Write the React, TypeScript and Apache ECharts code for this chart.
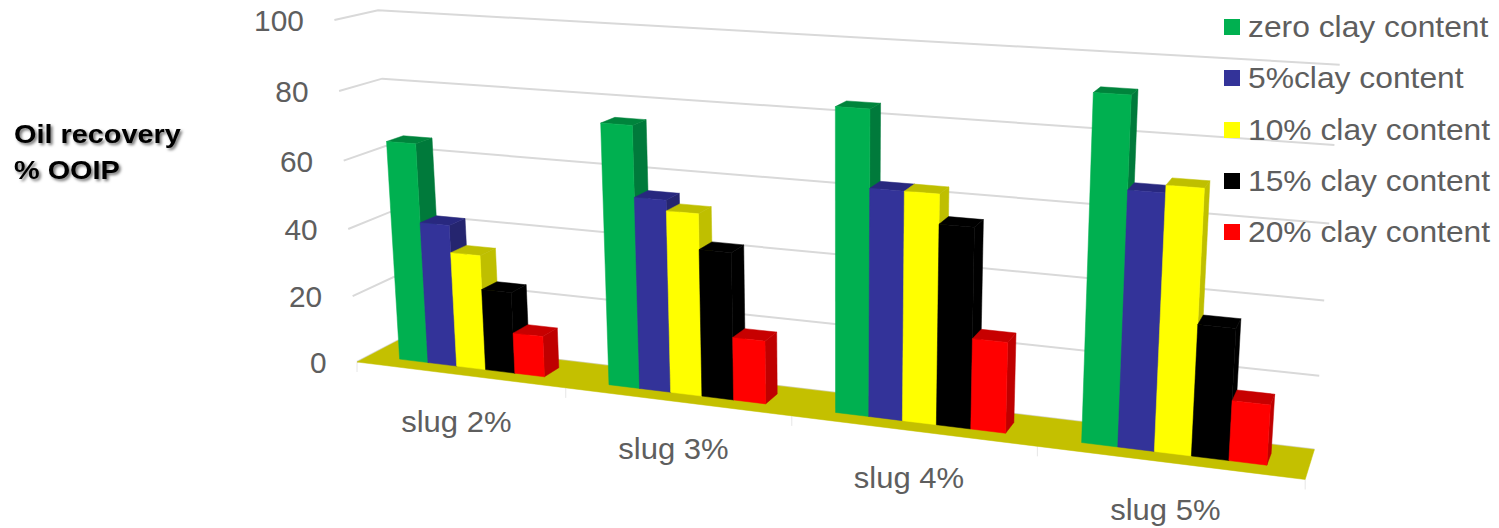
import React, { useEffect, useRef } from "react";
import * as echarts from "echarts";

// Chart content
const categories = ["slug 2%", "slug 3%", "slug 4%", "slug 5%"];
const tickValues = [0, 20, 40, 60, 80, 100];
const legendNames = [
  "zero clay content",
  "5%clay content",
  "10% clay content",
  "15% clay content",
  "20% clay content",
];
const zeroClay = [65, 75, 84, 92];
const clay5 = [42, 55, 63, 68];
const clay10 = [34, 52, 63, 70];
const clay15 = [24, 42, 55, 35];
const clay20 = [12, 18, 25, 16];
const seriesValues = [zeroClay, clay5, clay10, clay15, clay20];

// Face colours per series
const frontColors = ["#00B050", "#333399", "#FFFF00", "#000000", "#FF0000"];
const sideColors = ["#007A3B", "#25256F", "#BFBF00", "#000000", "#BF0000"];
const topColors = ["#00843C", "#28287F", "#BFBF00", "#000000", "#C70000"];

const FONT = '"Liberation Sans", Arial, sans-serif';
const TEXT_GREY = "#5E5E5E";
const GRID_GREY = "#D9D9D9";
const FLOOR = "#C4C000";

// Perspective box: origin is the near-left floor corner, the three vanishing
// points give the category, depth and value directions.
const ORIGIN = [357, 362];
const VP_X = [-4888, -288];
const VP_Z = [1530, -250];
const VP_Y = [840, 7670];
const A = -0.1531;
const B = 0.0362;
const C = -0.0447;

function project(u: number, w: number, v: number): number[] {
  const d = 1 + A * u + B * w + C * v;
  return [
    (ORIGIN[0] + A * VP_X[0] * u + B * VP_Z[0] * w + C * VP_Y[0] * v) / d,
    (ORIGIN[1] + A * VP_X[1] * u + B * VP_Z[1] * w + C * VP_Y[1] * v) / d,
  ];
}

// Grid position of a data point as fractions of the plot box
function toUnit(params: any, api: any, cat: number, val: number) {
  const cs = params.coordSys;
  const p = api.coord([cat, val]);
  return {
    u: (p[0] - cs.x) / cs.width,
    v: (cs.y + cs.height - p[1]) / cs.height,
    slot: api.size([1, 0])[0] / cs.width,
  };
}

const GROUP_SPAN = 0.7;
const DEPTH_NEAR = 0.3;
const DEPTH_FAR = 0.7;

function face(points: number[][], fill: string) {
  return {
    type: "polygon",
    shape: { points },
    style: { fill, stroke: fill, lineWidth: 0.5 },
  };
}

function barRenderer(index: number) {
  return (params: any, api: any) => {
    const { u, v, slot } = toUnit(params, api, api.value(0), api.value(1));
    const barW = (slot * GROUP_SPAN) / seriesValues.length;
    const u0 = u - (slot * GROUP_SPAN) / 2 + barW * index;
    const u1 = u0 + barW;
    const n = DEPTH_NEAR;
    const f = DEPTH_FAR;
    return {
      type: "group",
      children: [
        face(
          [project(u1, n, 0), project(u1, f, 0), project(u1, f, v), project(u1, n, v)],
          sideColors[index],
        ),
        face(
          [project(u0, n, v), project(u1, n, v), project(u1, f, v), project(u0, f, v)],
          topColors[index],
        ),
        face(
          [project(u0, n, 0), project(u1, n, 0), project(u1, n, v), project(u0, n, v)],
          frontColors[index],
        ),
      ],
    };
  };
}

// Left and back wall gridlines with the value labels on the near edge
function wallRenderer(params: any, api: any) {
  const { v } = toUnit(params, api, 0, api.value(1));
  const near = project(0, 0, v);
  return {
    type: "group",
    children: [
      {
        type: "polyline",
        shape: { points: [near, project(0, 1, v), project(1, 1, v)] },
        style: { fill: "none", stroke: GRID_GREY, lineWidth: 2 },
      },
      {
        type: "text",
        x: near[0] - 30.5,
        y: near[1] + 1,
        scaleX: 1.03,
        style: {
          text: String(api.value(1)),
          align: "right",
          verticalAlign: "middle",
          fill: TEXT_GREY,
          fontFamily: FONT,
          fontSize: 29,
        },
      },
    ],
  };
}

function floorRenderer() {
  const ticks = [0, 0.25, 0.5, 0.75, 1].map((u) => {
    const p = project(u, 0, 0);
    return {
      type: "line",
      shape: { x1: p[0], y1: p[1], x2: p[0], y2: p[1] + 10 },
      style: { stroke: "#E6E6E6", lineWidth: 1 },
    };
  });
  return {
    type: "group",
    children: [
      ...ticks,
      face([project(0, 0, 0), project(1, 0, 0), project(1, 1, 0), project(0, 1, 0)], FLOOR),
    ],
  };
}

function categoryLabelRenderer(params: any, api: any) {
  const { u } = toUnit(params, api, api.value(0), 0);
  const p = project(u, 0, 0);
  return {
    type: "text",
    x: p[0] - 3,
    y: p[1] + 47,
    scaleX: 1.07,
    style: {
      text: categories[api.value(0)],
      align: "center",
      verticalAlign: "middle",
      fill: TEXT_GREY,
      fontFamily: FONT,
      fontSize: 29,
    },
  };
}

const legendRows = [27, 78, 130, 181, 232];

export default function App() {
  const ref = useRef<HTMLDivElement>(null);

  useEffect(() => {
    document.body.style.margin = "0";
    const chart = echarts.init(ref.current!, null, { renderer: "svg" });
    chart.setOption({
      animation: false,
      backgroundColor: "#FFFFFF",
      grid: { left: 0, top: 0, width: 1000, height: 500, containLabel: false },
      xAxis: { type: "category", data: categories, show: false },
      yAxis: { type: "value", min: 0, max: 100, interval: 20, show: false },
      tooltip: { show: false },
      series: [
        {
          type: "custom",
          name: "gridlines",
          renderItem: wallRenderer,
          data: tickValues.map((t) => [0, t]),
          silent: true,
        },
        {
          type: "custom",
          name: "floor",
          renderItem: floorRenderer,
          data: [[0, 0]],
          silent: true,
        },
        {
          type: "custom",
          name: "category labels",
          renderItem: categoryLabelRenderer,
          data: categories.map((_, i) => [i, 0]),
          silent: true,
        },
        ...legendNames.map((name, i) => ({
          type: "custom",
          name,
          renderItem: barRenderer(i),
          data: seriesValues[i].map((val, c) => [c, val]),
          silent: true,
        })),
      ],
      graphic: [
        ...legendNames.flatMap((name, i) => [
          {
            type: "rect",
            z: 100,
            shape: { x: 1224, y: legendRows[i] - 8, width: 16, height: 16 },
            style: { fill: frontColors[i] },
          },
          {
            type: "text",
            z: 100,
            x: 1248,
            y: legendRows[i],
            scaleX: 1.06,
            style: {
              text: name,
              verticalAlign: "middle",
              fill: TEXT_GREY,
              fontFamily: FONT,
              fontSize: 30,
            },
          },
        ]),
        ...["Oil recovery", "% OOIP"].map((line, i) => ({
          type: "text",
          z: 100,
          x: 14,
          y: 134 + i * 36,
          scaleX: 1.11,
          style: {
            text: line,
            verticalAlign: "middle",
            fill: "#000000",
            fontFamily: FONT,
            fontWeight: "bold",
            fontSize: 26,
            textShadowColor: "rgba(0,0,0,0.55)",
            textShadowBlur: 3,
            textShadowOffsetX: 2,
            textShadowOffsetY: 2,
          },
        })),
      ],
    });
    return () => chart.dispose();
  }, []);

  return (
    <div ref={ref} style={{ width: 1499, height: 528 }} />
  );
}
